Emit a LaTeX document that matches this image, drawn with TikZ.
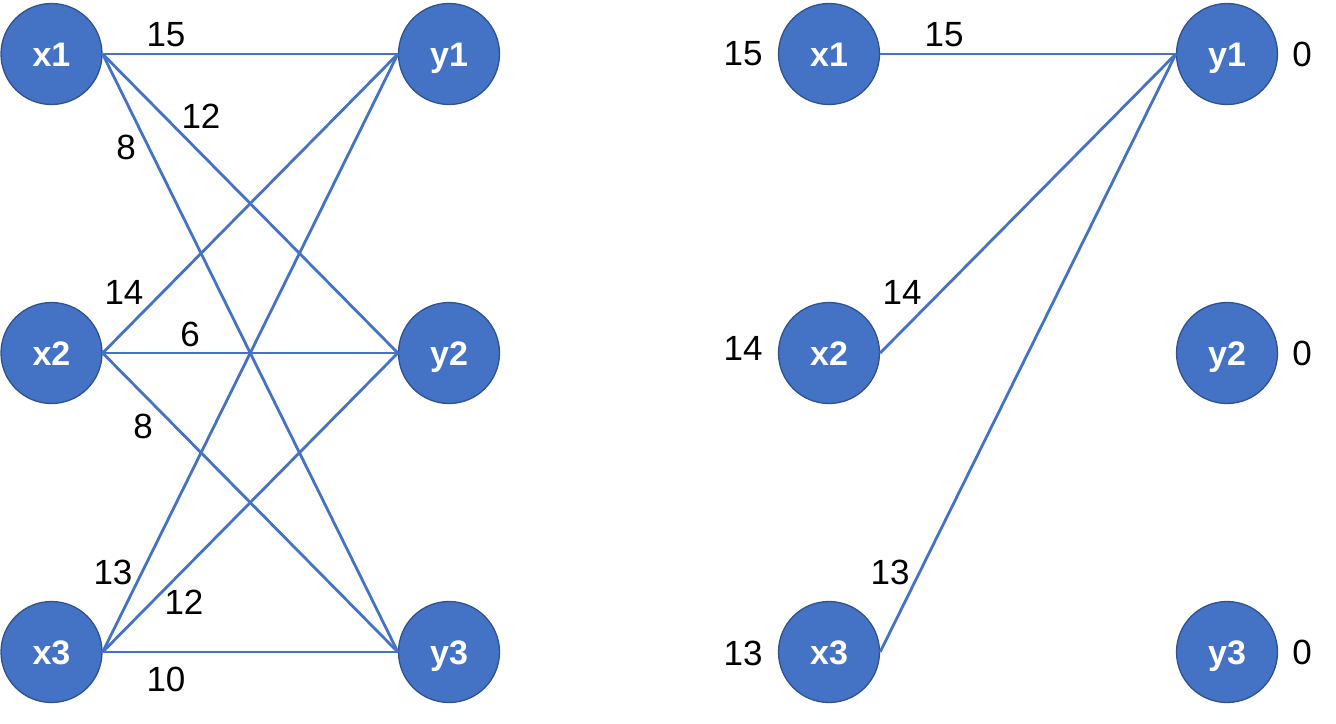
\documentclass[tikz,border=0pt]{standalone}
\usepackage{fontspec}
\setmainfont{Liberation Sans}
\definecolor{nodefill}{HTML}{4472C4}
\definecolor{nodeborder}{HTML}{2F528F}
\definecolor{edgecol}{HTML}{4472C4}
\begin{document}
\begin{tikzpicture}[x=1pt,y=-1pt,
  vert/.style={circle,fill=nodefill,draw=nodeborder,line width=1.3pt,minimum size=101pt,inner sep=0pt,text=white,text height=24.5pt,text depth=0pt,font=\fontsize{34}{38}\selectfont\bfseries},
  edge/.style={draw=edgecol,line width=2.8pt},
  lab/.style={font=\fontsize{35}{39}\selectfont,text=black,inner sep=0pt}]
\useasboundingbox (0,0) rectangle (1336,723);
% left graph
\node[vert] (x1) at (51.5,54) {x1};
\node[vert] (x2) at (51.5,353) {x2};
\node[vert] (x3) at (51.5,652) {x3};
\node[vert] (y1) at (449,54) {y1};
\node[vert] (y2) at (449,353) {y2};
\node[vert] (y3) at (449,652) {y3};
\foreach \a in {x1,x2,x3}{
  \foreach \b in {y1,y2,y3}{
    \draw[edge] (\a.east) -- (\b.west);
  }
}
\node[lab] (l1) at (166,35) {15};
\node[lab] (l2) at (201,116) {12};
\node[lab] (l3) at (126,147) {8};
\node[lab] (l4) at (124,292) {14};
\node[lab] (l5) at (190,334) {6};
\node[lab] (l6) at (143,426) {8};
\node[lab] (l7) at (113,572) {13};
\node[lab] (l8) at (184,602) {12};
\node[lab] (l9) at (166,679) {10};
% right graph
\node[vert] (rx1) at (829,54) {x1};
\node[vert] (rx2) at (829,353) {x2};
\node[vert] (rx3) at (829,652) {x3};
\node[vert] (ry1) at (1227,54) {y1};
\node[vert] (ry2) at (1227,353) {y2};
\node[vert] (ry3) at (1227,652) {y3};
\draw[edge] (rx1.east) -- (ry1.west);
\draw[edge] (rx2.east) -- (ry1.west);
\draw[edge] (rx3.east) -- (ry1.west);
\node[lab] (r1) at (743,54) {15};
\node[lab] (r2) at (743,348) {14};
\node[lab] (r3) at (743,653) {13};
\node[lab] (r4) at (944,35) {15};
\node[lab] (r5) at (902,292) {14};
\node[lab] (r6) at (890,572) {13};
\node[lab] (r7) at (1302,54) {0};
\node[lab] (r8) at (1302,353) {0};
\node[lab] (r9) at (1302,652) {0};
\end{tikzpicture}
\end{document}
